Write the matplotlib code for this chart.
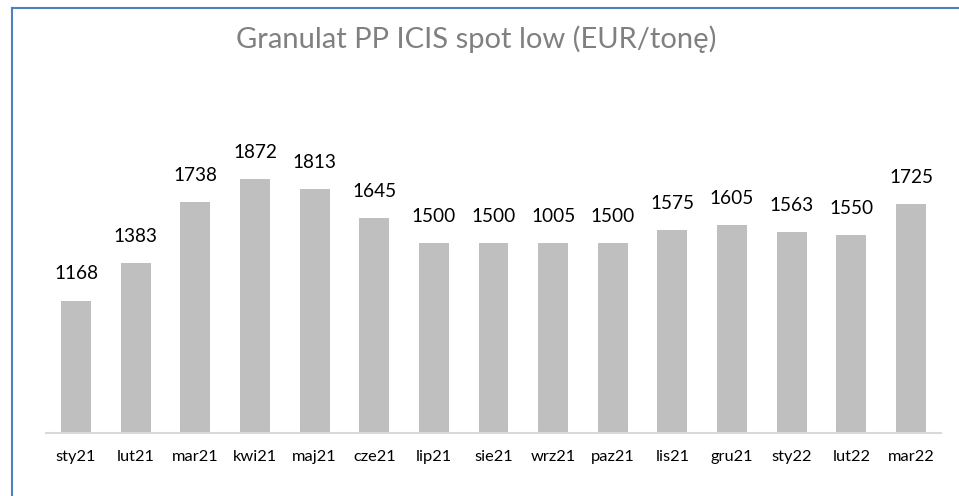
import matplotlib
matplotlib.use("Agg")
import matplotlib.pyplot as plt
from matplotlib.lines import Line2D

categories = ["sty21", "lut21", "mar21", "kwi21", "maj21", "cze21", "lip21", "sie21",
              "wrz21", "paz21", "lis21", "gru21", "sty22", "lut22", "mar22"]
values = [1168, 1383, 1738, 1872, 1813, 1645, 1500, 1500, 1500, 1500, 1575, 1605, 1563, 1550, 1725]
data_labels = ["1168", "1383", "1738", "1872", "1813", "1645", "1500", "1500", "1005", "1500",
               "1575", "1605", "1563", "1550", "1725"]
title = "Granulat PP ICIS spot low (EUR/tonę)"

plt.rcParams['font.family'] = ['Lato', 'DejaVu Sans']

W, H = 959, 496
fig = plt.figure(figsize=(W / 100, H / 100), dpi=100)
fig.patch.set_facecolor("white")

ax_left, ax_right = 46.2, 940.8
ax_top, ax_bottom = 157, 433
ax = fig.add_axes([ax_left / W, 1 - ax_bottom / H, (ax_right - ax_left) / W, (ax_bottom - ax_top) / H])

x = list(range(len(categories)))
ax.bar(x, values, width=0.503, color="#BFBFBF", zorder=2)
ax.set_xlim(-0.5, len(categories) - 0.5)
ax.set_ylim(400, 2000)

for xi, v, lab in zip(x, values, data_labels):
    ax.annotate(lab, (xi, v), xytext=(0, 13), textcoords="offset points",
                ha="center", va="bottom", fontsize=13.7, color="#000000")

for s in ["top", "right", "left"]:
    ax.spines[s].set_visible(False)
ax.spines["bottom"].set_color("#D9D9D9")
ax.spines["bottom"].set_linewidth(1.5)
ax.set_yticks([])
ax.set_xticks(x)
ax.set_xticklabels(categories, fontsize=11.8, color="#000000")
ax.tick_params(axis="x", length=0, pad=12)

fig.text(476 / W, 1 - 39 / H, title, ha="center", va="center", fontsize=21, color="#808080")

# chart frame (only top and left visible)
fig.add_artist(Line2D([12 / W, 12 / W], [0, 1 - 8 / H], transform=fig.transFigure,
                      color="#4F81BD", linewidth=1.5))
fig.add_artist(Line2D([12 / W, 1], [1 - 8 / H, 1 - 8 / H], transform=fig.transFigure,
                      color="#4F81BD", linewidth=1.5))

fig.savefig("out.png", dpi=100)
